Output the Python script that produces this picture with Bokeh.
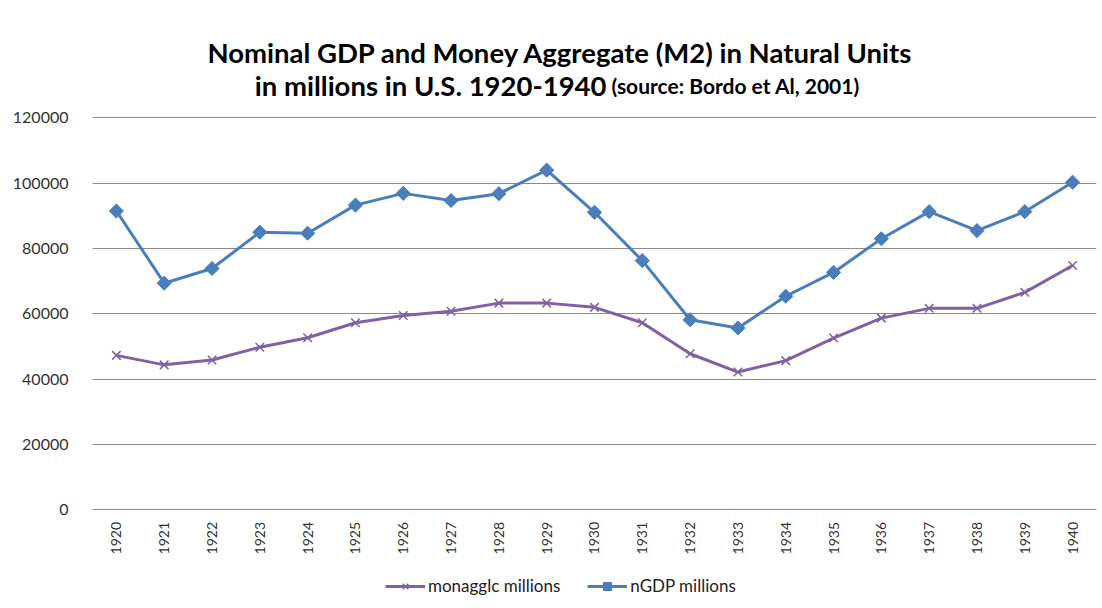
from bokeh.plotting import figure
from bokeh.models import FactorRange, Range1d, Legend, LegendItem, NumeralTickFormatter, FixedTicker
from bokeh.core.properties import value
from bokeh.embed import file_html
from bokeh.resources import INLINE
import math

years = ["1920", "1921", "1922", "1923", "1924", "1925", "1926", "1927", "1928", "1929", "1930",
         "1931", "1932", "1933", "1934", "1935", "1936", "1937", "1938", "1939", "1940"]
ngdp = [91500, 69400, 73900, 85000, 84700, 93300, 96900, 94700, 96800, 104000, 91100,
        76300, 58200, 55700, 65400, 72700, 83000, 91300, 85500, 91300, 100300]
monagglc = [47300, 44400, 45900, 49800, 52700, 57300, 59500, 60800, 63300, 63300, 62000,
            57300, 47800, 42200, 45700, 52600, 58700, 61700, 61700, 66600, 74800]
y_ticks = [0, 20000, 40000, 60000, 80000, 100000, 120000]

title_line1 = "Nominal GDP and Money Aggregate (M2) in Natural Units"
title_line2a = "in millions in U.S. 1920-1940"
title_line2b = "(source: Bordo et Al, 2001)"

FONT = "Lato"

# geometry (pixels): the frame covers the whole canvas height; the x axis is
# pinned at y = 0 so that the title and legend can be drawn inside the frame
FRAME_LEFT, FRAME_W, FRAME_H = 92, 1004, 608
ZERO_PX = 509.4
PX_PER_UNIT = 392.0 / 120000.0


def y_at(px_from_top):
    return (ZERO_PX - px_from_top) / PX_PER_UNIT


CAT_W = FRAME_W / len(years)
REF_CENTER = FRAME_LEFT + CAT_W * 10.5


def x_at(px):
    return ("1930", (px - REF_CENTER) / CAT_W)


p = figure(frame_width=FRAME_W, frame_height=FRAME_H, x_range=FactorRange(*years),
           y_range=Range1d(y_at(FRAME_H), y_at(0)), output_backend="svg", toolbar_location=None,
           min_border_left=FRAME_LEFT, min_border_right=6, min_border_top=0, min_border_bottom=0)
p.outline_line_color = None

p.xgrid.grid_line_color = None
p.ygrid.grid_line_color = "#8c8c8c"
p.ygrid.grid_line_width = 1

p.yaxis.ticker = FixedTicker(ticks=y_ticks)
p.yaxis.formatter = NumeralTickFormatter(format="0")
p.yaxis.axis_line_color = None
p.yaxis.major_tick_line_color = None
p.yaxis.minor_tick_line_color = None
p.yaxis.major_label_text_font = FONT
p.yaxis.major_label_text_font_size = "16px"
p.yaxis.major_label_text_color = "#333333"
p.yaxis.major_label_standoff = 18

p.xaxis.fixed_location = 0
p.xaxis.axis_line_color = "#8c8c8c"
p.xaxis.major_tick_line_color = None
p.xaxis.minor_tick_line_color = None
p.xaxis.major_tick_out = 0
p.xaxis.major_tick_in = 0
p.xaxis.major_label_orientation = math.pi / 2
p.xaxis.major_label_text_font = FONT
p.xaxis.major_label_text_font_size = "14px"
p.xaxis.major_label_text_color = "#333333"
p.xaxis.major_label_standoff = 12

blue = "#4a7ebb"
purple = "#7f62a1"

r_m_line = p.line(years, monagglc, line_color=purple, line_width=3)
r_m_mark = p.scatter(years, monagglc, marker="x", size=12, line_color=purple, line_width=1.5)
r_g_line = p.line(years, ngdp, line_color=blue, line_width=3)
r_g_mark = p.scatter(years, ngdp, marker="square", angle=math.pi / 4, size=10,
                     fill_color=blue, line_color=blue)

p.text(x=[x_at(560)], y=[y_at(52)], text=[title_line1], text_align="center",
       text_baseline="alphabetic", text_font=value(FONT), text_font_style="bold",
       text_font_size="27.5px", text_color="#000000")
p.text(x=[x_at(606)], y=[y_at(85)], text=[title_line2a], text_align="right",
       text_baseline="alphabetic", text_font=value(FONT), text_font_style="bold",
       text_font_size="27.5px", text_color="#000000")
p.text(x=[x_at(611)], y=[y_at(85)], text=[title_line2b], text_align="left",
       text_baseline="alphabetic", text_font=value(FONT), text_font_style="bold",
       text_font_size="21px", text_color="#000000")

legend = Legend(items=[LegendItem(label="monagglc millions", renderers=[r_m_line, r_m_mark]),
                       LegendItem(label="nGDP millions", renderers=[r_g_line, r_g_mark])],
                orientation="horizontal", location=(293, 12),
                label_text_font=FONT, label_text_font_size="17px", label_text_color="#222222",
                glyph_width=40, label_standoff=3, spacing=27, border_line_color=None,
                background_fill_alpha=0, padding=0, margin=0)
p.add_layout(legend, "center")

open("out.html", "w").write(file_html(p, INLINE))
